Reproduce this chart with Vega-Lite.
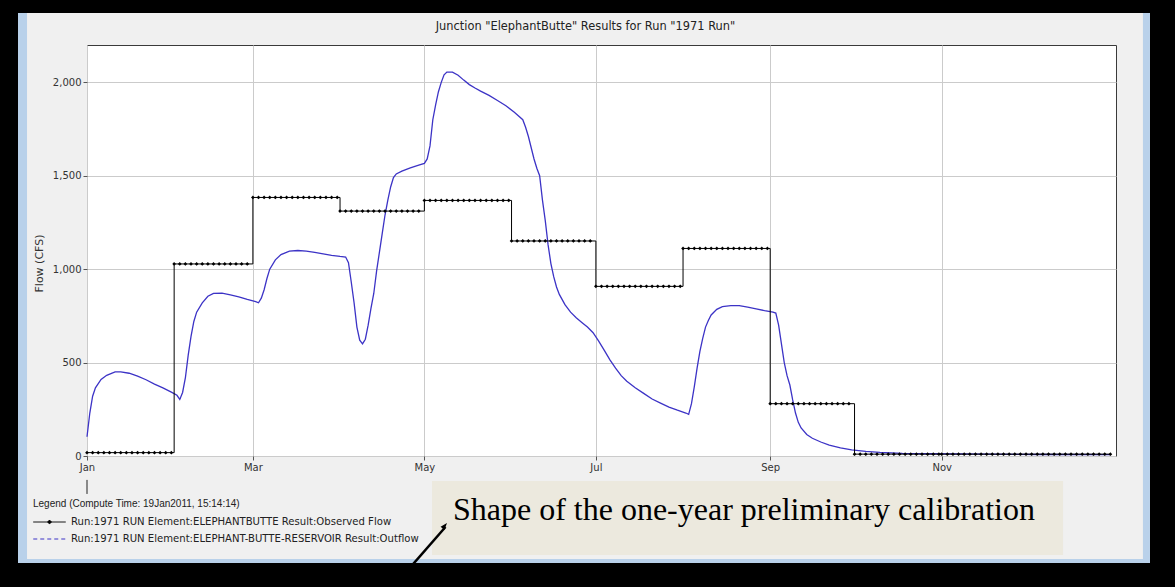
{
  "$schema": "https://vega.github.io/schema/vega-lite/v6.json",
  "autosize": {"type": "none"},
  "width": 1029,
  "height": 411,
  "padding": {"left": 87, "top": 45, "right": 59, "bottom": 131},
  "background": "#f0f0f0",
  "title": {
    "text": "Junction \"ElephantButte\" Results for Run \"1971 Run\"",
    "frame": "group",
    "anchor": "middle",
    "dx": -16,
    "offset": -32,
    "font": "DejaVu Sans",
    "fontSize": 11.4,
    "fontWeight": "normal",
    "color": "#222222"
  },
  "data": {"values": [{}]},
  "layer": [
    {
      "mark": {"type": "rect", "color": "#000000"},
      "encoding": {
        "x": {"datum": {"year": 1970, "month": 11, "date": 20}},
        "x2": {"datum": {"year": 1972, "month": 2, "date": 10}},
        "y": {"datum": 2441},
        "y2": {"datum": 2371}
      }
    },
    {
      "mark": {"type": "rect", "color": "#000000"},
      "encoding": {
        "x": {"datum": {"year": 1970, "month": 11, "date": 20}},
        "x2": {"datum": {"year": 1972, "month": 2, "date": 10}},
        "y": {"datum": -573},
        "y2": {"datum": -701}
      }
    },
    {
      "mark": {"type": "rect", "color": "#000000"},
      "encoding": {
        "x": {"datum": {"year": 1970, "month": 11, "date": 20}},
        "x2": {"datum": {"year": 1970, "month": 12, "date": 7, "hours": 11}},
        "y": {"datum": 2441},
        "y2": {"datum": -701}
      }
    },
    {
      "mark": {"type": "rect", "color": "#000000"},
      "encoding": {
        "x": {"datum": {"year": 1972, "month": 1, "date": 14, "hours": 2}},
        "x2": {"datum": {"year": 1972, "month": 2, "date": 10}},
        "y": {"datum": 2441},
        "y2": {"datum": -701}
      }
    },
    {
      "mark": {"type": "rect", "color": "#b9d1ea"},
      "encoding": {
        "x": {"datum": {"year": 1970, "month": 12, "date": 7, "hours": 11}},
        "x2": {"datum": {"year": 1970, "month": 12, "date": 10, "hours": 16}},
        "y": {"datum": 2371},
        "y2": {"datum": -573}
      }
    },
    {
      "mark": {"type": "rect", "color": "#b9d1ea"},
      "encoding": {
        "x": {"datum": {"year": 1972, "month": 1, "date": 11, "hours": 14}},
        "x2": {"datum": {"year": 1972, "month": 1, "date": 14, "hours": 2}},
        "y": {"datum": 2371},
        "y2": {"datum": -573}
      }
    },
    {
      "mark": {"type": "rect", "color": "#b9d1ea"},
      "encoding": {
        "x": {"datum": {"year": 1970, "month": 12, "date": 7, "hours": 11}},
        "x2": {"datum": {"year": 1972, "month": 1, "date": 14, "hours": 2}},
        "y": {"datum": -551},
        "y2": {"datum": -573}
      }
    },
    {
      "mark": {"type": "rect", "color": "#ece9de"},
      "encoding": {
        "x": {"datum": {"year": 1971, "month": 5, "date": 3, "hours": 17}},
        "x2": {"datum": {"year": 1971, "month": 12, "date": 14, "hours": 4}},
        "y": {"datum": -134},
        "y2": {"datum": -530}
      }
    },
    {
      "data": {"values": [{"note": "Shape of the one-year preliminary calibration"}]},
      "mark": {"type": "text", "font": "Liberation Serif", "fontSize": 32, "color": "#000000", "align": "left", "baseline": "alphabetic"},
      "encoding": {
        "x": {"datum": {"year": 1971, "month": 5, "date": 11, "hours": 4}},
        "y": {"datum": -343},
        "text": {"field": "note"}
      }
    },
    {
      "mark": {"type": "rule", "color": "#000000", "strokeWidth": 2.5},
      "encoding": {
        "x": {"datum": {"year": 1971, "month": 4, "date": 20, "hours": 13}},
        "x2": {"datum": {"year": 1971, "month": 5, "date": 8, "hours": 12}},
        "y": {"datum": -690},
        "y2": {"datum": -380}
      }
    },
    {
      "mark": {"type": "point", "shape": "M0,0L-0.5,1.4L0.5,1.4Z", "size": 100, "angle": 40, "filled": true, "color": "#000000", "opacity": 1},
      "encoding": {
        "x": {"datum": {"year": 1971, "month": 5, "date": 9, "hours": 1}},
        "y": {"datum": -359}
      }
    },
    {
      "mark": {"type": "rule", "color": "#222222", "strokeWidth": 1},
      "encoding": {
        "x": {"datum": {"year": 1971, "month": 1, "date": 1}},
        "y": {"datum": -128},
        "y2": {"datum": -203}
      }
    },
    {
      "data": {
        "values": [
          {"date": "1971-01-01", "flow": 103}, {"date": "1971-01-02", "flow": 230}, {"date": "1971-01-03", "flow": 320},
          {"date": "1971-01-04", "flow": 365}, {"date": "1971-01-06", "flow": 410}, {"date": "1971-01-08", "flow": 432},
          {"date": "1971-01-11", "flow": 450}, {"date": "1971-01-13", "flow": 450}, {"date": "1971-01-16", "flow": 443},
          {"date": "1971-01-19", "flow": 428}, {"date": "1971-01-22", "flow": 408}, {"date": "1971-01-25", "flow": 385},
          {"date": "1971-01-28", "flow": 365}, {"date": "1971-01-31", "flow": 342}, {"date": "1971-02-02", "flow": 325},
          {"date": "1971-02-03", "flow": 303}, {"date": "1971-02-04", "flow": 340}, {"date": "1971-02-05", "flow": 420},
          {"date": "1971-02-06", "flow": 540}, {"date": "1971-02-07", "flow": 640}, {"date": "1971-02-08", "flow": 720},
          {"date": "1971-02-09", "flow": 770}, {"date": "1971-02-11", "flow": 820}, {"date": "1971-02-13", "flow": 855},
          {"date": "1971-02-15", "flow": 870}, {"date": "1971-02-18", "flow": 872}, {"date": "1971-02-21", "flow": 863},
          {"date": "1971-02-24", "flow": 852}, {"date": "1971-02-27", "flow": 838}, {"date": "1971-03-02", "flow": 826},
          {"date": "1971-03-03", "flow": 820}, {"date": "1971-03-04", "flow": 845}, {"date": "1971-03-05", "flow": 890},
          {"date": "1971-03-06", "flow": 950}, {"date": "1971-03-07", "flow": 1000}, {"date": "1971-03-09", "flow": 1050},
          {"date": "1971-03-11", "flow": 1078}, {"date": "1971-03-14", "flow": 1097}, {"date": "1971-03-17", "flow": 1100},
          {"date": "1971-03-20", "flow": 1097}, {"date": "1971-03-23", "flow": 1090}, {"date": "1971-03-26", "flow": 1082},
          {"date": "1971-03-29", "flow": 1074}, {"date": "1971-04-01", "flow": 1068}, {"date": "1971-04-03", "flow": 1065},
          {"date": "1971-04-04", "flow": 1035}, {"date": "1971-04-05", "flow": 930}, {"date": "1971-04-06", "flow": 820},
          {"date": "1971-04-07", "flow": 690}, {"date": "1971-04-08", "flow": 620}, {"date": "1971-04-09", "flow": 600},
          {"date": "1971-04-10", "flow": 625}, {"date": "1971-04-11", "flow": 700}, {"date": "1971-04-12", "flow": 790},
          {"date": "1971-04-13", "flow": 870}, {"date": "1971-04-14", "flow": 990}, {"date": "1971-04-15", "flow": 1090},
          {"date": "1971-04-16", "flow": 1190}, {"date": "1971-04-17", "flow": 1290}, {"date": "1971-04-18", "flow": 1370},
          {"date": "1971-04-19", "flow": 1440}, {"date": "1971-04-20", "flow": 1490}, {"date": "1971-04-21", "flow": 1510},
          {"date": "1971-04-23", "flow": 1525}, {"date": "1971-04-26", "flow": 1542}, {"date": "1971-04-29", "flow": 1557},
          {"date": "1971-05-01", "flow": 1566}, {"date": "1971-05-02", "flow": 1590}, {"date": "1971-05-03", "flow": 1660},
          {"date": "1971-05-04", "flow": 1800}, {"date": "1971-05-05", "flow": 1880}, {"date": "1971-05-06", "flow": 1950},
          {"date": "1971-05-07", "flow": 2000}, {"date": "1971-05-08", "flow": 2040}, {"date": "1971-05-09", "flow": 2055},
          {"date": "1971-05-11", "flow": 2055}, {"date": "1971-05-13", "flow": 2038}, {"date": "1971-05-15", "flow": 2012},
          {"date": "1971-05-17", "flow": 1988}, {"date": "1971-05-19", "flow": 1970}, {"date": "1971-05-21", "flow": 1953},
          {"date": "1971-05-24", "flow": 1930}, {"date": "1971-05-27", "flow": 1903}, {"date": "1971-05-30", "flow": 1875},
          {"date": "1971-06-02", "flow": 1840}, {"date": "1971-06-05", "flow": 1800}, {"date": "1971-06-06", "flow": 1760},
          {"date": "1971-06-07", "flow": 1710}, {"date": "1971-06-08", "flow": 1650}, {"date": "1971-06-09", "flow": 1590},
          {"date": "1971-06-10", "flow": 1540}, {"date": "1971-06-11", "flow": 1500}, {"date": "1971-06-12", "flow": 1370},
          {"date": "1971-06-13", "flow": 1260}, {"date": "1971-06-14", "flow": 1130}, {"date": "1971-06-15", "flow": 1030},
          {"date": "1971-06-16", "flow": 960}, {"date": "1971-06-17", "flow": 905}, {"date": "1971-06-18", "flow": 865},
          {"date": "1971-06-20", "flow": 810}, {"date": "1971-06-22", "flow": 770}, {"date": "1971-06-24", "flow": 740},
          {"date": "1971-06-26", "flow": 715}, {"date": "1971-06-28", "flow": 690}, {"date": "1971-06-30", "flow": 660},
          {"date": "1971-07-02", "flow": 615}, {"date": "1971-07-04", "flow": 565}, {"date": "1971-07-06", "flow": 515},
          {"date": "1971-07-08", "flow": 470}, {"date": "1971-07-10", "flow": 430}, {"date": "1971-07-12", "flow": 400},
          {"date": "1971-07-15", "flow": 365}, {"date": "1971-07-18", "flow": 335}, {"date": "1971-07-21", "flow": 305},
          {"date": "1971-07-24", "flow": 283}, {"date": "1971-07-27", "flow": 262}, {"date": "1971-07-30", "flow": 245},
          {"date": "1971-08-02", "flow": 230}, {"date": "1971-08-03", "flow": 223}, {"date": "1971-08-04", "flow": 280},
          {"date": "1971-08-05", "flow": 370}, {"date": "1971-08-06", "flow": 470}, {"date": "1971-08-07", "flow": 560},
          {"date": "1971-08-08", "flow": 630}, {"date": "1971-08-09", "flow": 690}, {"date": "1971-08-10", "flow": 725},
          {"date": "1971-08-11", "flow": 755}, {"date": "1971-08-13", "flow": 785}, {"date": "1971-08-15", "flow": 800},
          {"date": "1971-08-18", "flow": 805}, {"date": "1971-08-21", "flow": 805}, {"date": "1971-08-24", "flow": 797},
          {"date": "1971-08-27", "flow": 788}, {"date": "1971-08-30", "flow": 778}, {"date": "1971-09-02", "flow": 770},
          {"date": "1971-09-03", "flow": 765}, {"date": "1971-09-04", "flow": 700}, {"date": "1971-09-05", "flow": 600},
          {"date": "1971-09-06", "flow": 500}, {"date": "1971-09-07", "flow": 430}, {"date": "1971-09-08", "flow": 380},
          {"date": "1971-09-09", "flow": 300}, {"date": "1971-09-10", "flow": 230}, {"date": "1971-09-11", "flow": 180},
          {"date": "1971-09-12", "flow": 150}, {"date": "1971-09-14", "flow": 115}, {"date": "1971-09-16", "flow": 95},
          {"date": "1971-09-19", "flow": 75}, {"date": "1971-09-22", "flow": 58}, {"date": "1971-09-26", "flow": 43},
          {"date": "1971-09-30", "flow": 33}, {"date": "1971-10-05", "flow": 25}, {"date": "1971-10-10", "flow": 19},
          {"date": "1971-10-18", "flow": 14}, {"date": "1971-10-28", "flow": 12}, {"date": "1971-11-17", "flow": 10},
          {"date": "1971-12-07", "flow": 8}, {"date": "1971-12-31", "flow": 7}
        ],
        "format": {"parse": {"date": "date:'%Y-%m-%d'"}}
      },
      "mark": {"type": "line", "strokeWidth": 1.3, "interpolate": "linear"},
      "encoding": {
        "x": {
          "field": "date",
          "type": "temporal",
          "scale": {"domain": [{"year": 1971, "month": 1, "date": 1}, {"year": 1972, "month": 1, "date": 2}], "nice": false},
          "axis": {
            "title": null,
            "values": [
              {"year": 1971, "month": 1, "date": 1}, {"year": 1971, "month": 3, "date": 1}, {"year": 1971, "month": 5, "date": 1},
              {"year": 1971, "month": 7, "date": 1}, {"year": 1971, "month": 9, "date": 1}, {"year": 1971, "month": 11, "date": 1}
            ],
            "format": "%b",
            "labelFlush": false,
            "labelOverlap": false,
            "domain": false,
            "grid": true,
            "gridColor": "#cbcbcb",
            "tickColor": "#555555",
            "tickSize": 4,
            "labelPadding": 2,
            "labelFont": "DejaVu Sans",
            "labelFontSize": 10,
            "labelColor": "#333333"
          }
        },
        "y": {
          "field": "flow",
          "type": "quantitative",
          "scale": {"domain": [0, 2200], "nice": false, "zero": false},
          "axis": {
            "title": "Flow (CFS)",
            "titleX": -43,
            "titleY": 218,
            "titleFont": "DejaVu Sans",
            "titleFontSize": 11,
            "titleFontWeight": "normal",
            "titleColor": "#333333",
            "values": [0, 500, 1000, 1500, 2000],
            "format": ",d",
            "domain": false,
            "grid": true,
            "gridColor": "#cbcbcb",
            "tickColor": "#555555",
            "tickSize": 4,
            "labelPadding": 2,
            "labelFont": "DejaVu Sans",
            "labelFontSize": 10,
            "labelColor": "#333333"
          }
        },
        "color": {
          "datum": "Run:1971 RUN Element:ELEPHANT-BUTTE-RESERVOIR Result:Outflow",
          "scale": {
            "domain": ["Run:1971 RUN Element:ELEPHANTBUTTE Result:Observed Flow", "Run:1971 RUN Element:ELEPHANT-BUTTE-RESERVOIR Result:Outflow"],
            "range": ["#000000", "#3c33c6"]
          },
          "legend": {
            "orient": "none",
            "legendX": -54,
            "legendY": 454,
            "padding": 0,
            "title": "Legend (Compute Time: 19Jan2011, 15:14:14)",
            "titleLimit": 0,
            "titleFont": "Liberation Sans",
            "titleFontSize": 10,
            "titleFontWeight": "normal",
            "titleColor": "#222222",
            "titlePadding": 6,
            "labelLimit": 0,
            "labelFont": "DejaVu Sans",
            "labelFontSize": 10.1,
            "labelColor": "#222222",
            "labelOffset": 14.5,
            "symbolOffset": 9.5,
            "symbolSize": 169,
            "symbolStrokeWidth": 1,
            "rowPadding": 4,
            "encode": {
              "symbols": {
                "update": {
                  "shape": {"signal": "indexof(datum.value, 'Outflow') >= 0 ? 'M-2.5,0H2.5' : 'M-2.5,0H2.5M0,-0.3L0.3,0L0,0.3L-0.3,0Z'"},
                  "strokeDash": {"signal": "indexof(datum.value, 'Outflow') >= 0 ? [4, 3] : [1, 0]"},
                  "fill": {"signal": "indexof(datum.value, 'Outflow') >= 0 ? 'transparent' : '#000000'"}
                }
              }
            }
          }
        }
      }
    },
    {
      "data": {
        "values": [
          {"date": "1971-01-01", "flow": 18}, {"date": "1971-02-01", "flow": 1028}, {"date": "1971-03-01", "flow": 1384},
          {"date": "1971-04-01", "flow": 1311}, {"date": "1971-05-01", "flow": 1368}, {"date": "1971-06-01", "flow": 1151},
          {"date": "1971-07-01", "flow": 908}, {"date": "1971-08-01", "flow": 1111}, {"date": "1971-09-01", "flow": 280},
          {"date": "1971-10-01", "flow": 10}, {"date": "1971-12-31", "flow": 10}
        ],
        "format": {"parse": {"date": "date:'%Y-%m-%d'"}}
      },
      "mark": {"type": "line", "strokeWidth": 1, "interpolate": "step-after"},
      "encoding": {
        "x": {"field": "date", "type": "temporal"},
        "y": {"field": "flow", "type": "quantitative"},
        "color": {"datum": "Run:1971 RUN Element:ELEPHANTBUTTE Result:Observed Flow"}
      }
    },
    {
      "data": {
        "values": [
          {"date": "1971-01-01", "flow": 18}, {"date": "1971-01-03", "flow": 18}, {"date": "1971-01-05", "flow": 18}, {"date": "1971-01-07", "flow": 18},
          {"date": "1971-01-09", "flow": 18}, {"date": "1971-01-11", "flow": 18}, {"date": "1971-01-13", "flow": 18}, {"date": "1971-01-15", "flow": 18},
          {"date": "1971-01-17", "flow": 18}, {"date": "1971-01-19", "flow": 18}, {"date": "1971-01-21", "flow": 18}, {"date": "1971-01-23", "flow": 18},
          {"date": "1971-01-25", "flow": 18}, {"date": "1971-01-27", "flow": 18}, {"date": "1971-01-29", "flow": 18}, {"date": "1971-01-31", "flow": 18},
          {"date": "1971-02-01", "flow": 1028}, {"date": "1971-02-03", "flow": 1028}, {"date": "1971-02-05", "flow": 1028}, {"date": "1971-02-07", "flow": 1028},
          {"date": "1971-02-09", "flow": 1028}, {"date": "1971-02-11", "flow": 1028}, {"date": "1971-02-13", "flow": 1028}, {"date": "1971-02-15", "flow": 1028},
          {"date": "1971-02-17", "flow": 1028}, {"date": "1971-02-19", "flow": 1028}, {"date": "1971-02-21", "flow": 1028}, {"date": "1971-02-23", "flow": 1028},
          {"date": "1971-02-25", "flow": 1028}, {"date": "1971-02-27", "flow": 1028},
          {"date": "1971-03-01", "flow": 1384}, {"date": "1971-03-03", "flow": 1384}, {"date": "1971-03-05", "flow": 1384}, {"date": "1971-03-07", "flow": 1384},
          {"date": "1971-03-09", "flow": 1384}, {"date": "1971-03-11", "flow": 1384}, {"date": "1971-03-13", "flow": 1384}, {"date": "1971-03-15", "flow": 1384},
          {"date": "1971-03-17", "flow": 1384}, {"date": "1971-03-19", "flow": 1384}, {"date": "1971-03-21", "flow": 1384}, {"date": "1971-03-23", "flow": 1384},
          {"date": "1971-03-25", "flow": 1384}, {"date": "1971-03-27", "flow": 1384}, {"date": "1971-03-29", "flow": 1384}, {"date": "1971-03-31", "flow": 1384},
          {"date": "1971-04-01", "flow": 1311}, {"date": "1971-04-03", "flow": 1311}, {"date": "1971-04-05", "flow": 1311}, {"date": "1971-04-07", "flow": 1311},
          {"date": "1971-04-09", "flow": 1311}, {"date": "1971-04-11", "flow": 1311}, {"date": "1971-04-13", "flow": 1311}, {"date": "1971-04-15", "flow": 1311},
          {"date": "1971-04-17", "flow": 1311}, {"date": "1971-04-19", "flow": 1311}, {"date": "1971-04-21", "flow": 1311}, {"date": "1971-04-23", "flow": 1311},
          {"date": "1971-04-25", "flow": 1311}, {"date": "1971-04-27", "flow": 1311}, {"date": "1971-04-29", "flow": 1311},
          {"date": "1971-05-01", "flow": 1368}, {"date": "1971-05-03", "flow": 1368}, {"date": "1971-05-05", "flow": 1368}, {"date": "1971-05-07", "flow": 1368},
          {"date": "1971-05-09", "flow": 1368}, {"date": "1971-05-11", "flow": 1368}, {"date": "1971-05-13", "flow": 1368}, {"date": "1971-05-15", "flow": 1368},
          {"date": "1971-05-17", "flow": 1368}, {"date": "1971-05-19", "flow": 1368}, {"date": "1971-05-21", "flow": 1368}, {"date": "1971-05-23", "flow": 1368},
          {"date": "1971-05-25", "flow": 1368}, {"date": "1971-05-27", "flow": 1368}, {"date": "1971-05-29", "flow": 1368}, {"date": "1971-05-31", "flow": 1368},
          {"date": "1971-06-01", "flow": 1151}, {"date": "1971-06-03", "flow": 1151}, {"date": "1971-06-05", "flow": 1151}, {"date": "1971-06-07", "flow": 1151},
          {"date": "1971-06-09", "flow": 1151}, {"date": "1971-06-11", "flow": 1151}, {"date": "1971-06-13", "flow": 1151}, {"date": "1971-06-15", "flow": 1151},
          {"date": "1971-06-17", "flow": 1151}, {"date": "1971-06-19", "flow": 1151}, {"date": "1971-06-21", "flow": 1151}, {"date": "1971-06-23", "flow": 1151},
          {"date": "1971-06-25", "flow": 1151}, {"date": "1971-06-27", "flow": 1151}, {"date": "1971-06-29", "flow": 1151},
          {"date": "1971-07-01", "flow": 908}, {"date": "1971-07-03", "flow": 908}, {"date": "1971-07-05", "flow": 908}, {"date": "1971-07-07", "flow": 908},
          {"date": "1971-07-09", "flow": 908}, {"date": "1971-07-11", "flow": 908}, {"date": "1971-07-13", "flow": 908}, {"date": "1971-07-15", "flow": 908},
          {"date": "1971-07-17", "flow": 908}, {"date": "1971-07-19", "flow": 908}, {"date": "1971-07-21", "flow": 908}, {"date": "1971-07-23", "flow": 908},
          {"date": "1971-07-25", "flow": 908}, {"date": "1971-07-27", "flow": 908}, {"date": "1971-07-29", "flow": 908}, {"date": "1971-07-31", "flow": 908},
          {"date": "1971-08-01", "flow": 1111}, {"date": "1971-08-03", "flow": 1111}, {"date": "1971-08-05", "flow": 1111}, {"date": "1971-08-07", "flow": 1111},
          {"date": "1971-08-09", "flow": 1111}, {"date": "1971-08-11", "flow": 1111}, {"date": "1971-08-13", "flow": 1111}, {"date": "1971-08-15", "flow": 1111},
          {"date": "1971-08-17", "flow": 1111}, {"date": "1971-08-19", "flow": 1111}, {"date": "1971-08-21", "flow": 1111}, {"date": "1971-08-23", "flow": 1111},
          {"date": "1971-08-25", "flow": 1111}, {"date": "1971-08-27", "flow": 1111}, {"date": "1971-08-29", "flow": 1111}, {"date": "1971-08-31", "flow": 1111},
          {"date": "1971-09-01", "flow": 280}, {"date": "1971-09-03", "flow": 280}, {"date": "1971-09-05", "flow": 280}, {"date": "1971-09-07", "flow": 280},
          {"date": "1971-09-09", "flow": 280}, {"date": "1971-09-11", "flow": 280}, {"date": "1971-09-13", "flow": 280}, {"date": "1971-09-15", "flow": 280},
          {"date": "1971-09-17", "flow": 280}, {"date": "1971-09-19", "flow": 280}, {"date": "1971-09-21", "flow": 280}, {"date": "1971-09-23", "flow": 280},
          {"date": "1971-09-25", "flow": 280}, {"date": "1971-09-27", "flow": 280}, {"date": "1971-09-29", "flow": 280},
          {"date": "1971-10-01", "flow": 10}, {"date": "1971-10-03", "flow": 10}, {"date": "1971-10-05", "flow": 10}, {"date": "1971-10-07", "flow": 10},
          {"date": "1971-10-09", "flow": 10}, {"date": "1971-10-11", "flow": 10}, {"date": "1971-10-13", "flow": 10}, {"date": "1971-10-15", "flow": 10},
          {"date": "1971-10-17", "flow": 10}, {"date": "1971-10-19", "flow": 10}, {"date": "1971-10-21", "flow": 10}, {"date": "1971-10-23", "flow": 10},
          {"date": "1971-10-25", "flow": 10}, {"date": "1971-10-27", "flow": 10}, {"date": "1971-10-29", "flow": 10}, {"date": "1971-10-31", "flow": 10},
          {"date": "1971-11-01", "flow": 10}, {"date": "1971-11-03", "flow": 10}, {"date": "1971-11-05", "flow": 10}, {"date": "1971-11-07", "flow": 10},
          {"date": "1971-11-09", "flow": 10}, {"date": "1971-11-11", "flow": 10}, {"date": "1971-11-13", "flow": 10}, {"date": "1971-11-15", "flow": 10},
          {"date": "1971-11-17", "flow": 10}, {"date": "1971-11-19", "flow": 10}, {"date": "1971-11-21", "flow": 10}, {"date": "1971-11-23", "flow": 10},
          {"date": "1971-11-25", "flow": 10}, {"date": "1971-11-27", "flow": 10}, {"date": "1971-11-29", "flow": 10},
          {"date": "1971-12-01", "flow": 10}, {"date": "1971-12-03", "flow": 10}, {"date": "1971-12-05", "flow": 10}, {"date": "1971-12-07", "flow": 10},
          {"date": "1971-12-09", "flow": 10}, {"date": "1971-12-11", "flow": 10}, {"date": "1971-12-13", "flow": 10}, {"date": "1971-12-15", "flow": 10},
          {"date": "1971-12-17", "flow": 10}, {"date": "1971-12-19", "flow": 10}, {"date": "1971-12-21", "flow": 10}, {"date": "1971-12-23", "flow": 10},
          {"date": "1971-12-25", "flow": 10}, {"date": "1971-12-27", "flow": 10}, {"date": "1971-12-29", "flow": 10}, {"date": "1971-12-31", "flow": 10}
        ],
        "format": {"parse": {"date": "date:'%Y-%m-%d'"}}
      },
      "mark": {"type": "point", "shape": "diamond", "size": 14, "filled": true, "opacity": 1, "color": "#000000"},
      "encoding": {
        "x": {"field": "date", "type": "temporal"},
        "y": {"field": "flow", "type": "quantitative"}
      }
    }
  ],
  "config": {
    "view": {"fill": "#ffffff", "stroke": "#3a3a3a", "strokeWidth": 1},
    "font": "Liberation Sans"
  }
}
